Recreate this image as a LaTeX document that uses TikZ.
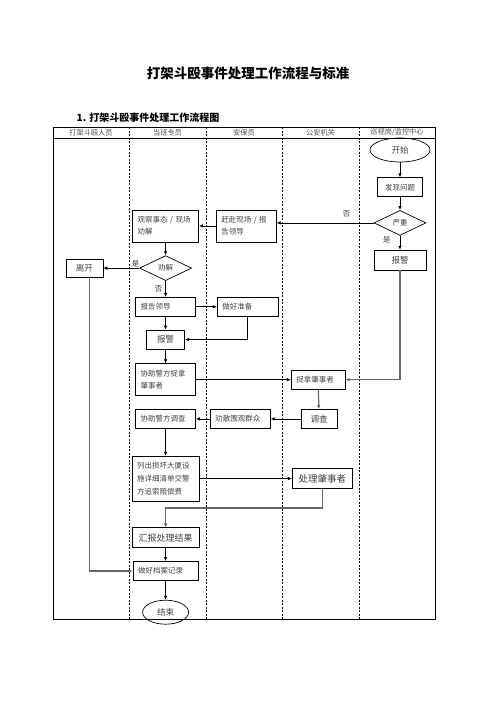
\documentclass[tikz,border=0pt]{standalone}
\usepackage{fontspec}
\setmainfont{Noto Sans CJK SC}
\usepackage{tikz}
\usetikzlibrary{arrows.meta,positioning,shapes.geometric}

\begin{document}
\begin{tikzpicture}[
    x=1pt, y=1pt,
    >={Latex[length=4pt,width=3.5pt]},
    line width=0.7pt,
    font=\fontsize{7.5}{12}\selectfont,
    proc/.style={draw, text=black!75, inner xsep=5pt, inner ysep=2pt, minimum height=19pt, align=left},
    procc/.style={proc, align=center},
    decide/.style={draw, diamond, aspect=2.1, minimum width=52pt, minimum height=25pt, inner sep=1pt, text=black!75},
    term/.style={draw, ellipse, minimum width=60pt, minimum height=24pt, inner sep=1pt, text=black!75, font=\fontsize{8.5}{10}\selectfont},
    lane/.style={dash pattern=on 2pt off 1.5pt, line width=0.6pt},
    lanehead/.style={text=black!70, font=\fontsize{7.2}{9}\selectfont},
    lbl/.style={text=black!75, inner sep=1pt},
    heavy/.style={->, draw=black!60, line width=1.2pt}
]
\useasboundingbox (0,0) rectangle (496,-702);

\node[font=\bfseries\fontsize{13.5}{16}\selectfont] (title) at (248,-73) {打架斗殴事件处理工作流程与标准};
\node[font=\bfseries\fontsize{10}{12}\selectfont, anchor=west] (subtitle) at (73,-118) {1. 打架斗殴事件处理工作流程图};

\draw[line width=0.8pt] (53,-127) rectangle (435,-619);
\draw[line width=0.8pt] (53,-138) -- (435,-138);
\foreach \lx in {129,206,282,359} \draw[lane] (\lx,-127) -- (\lx,-619);
\foreach \lx/\ltext [count=\i] in {91/打架斗殴人员, 167.5/当班专员, 244/安保员, 320.5/公安机关, 397/{巡视岗/监控中心}}
    \node[lanehead] (lane\i) at (\lx,-132.5) {\ltext};

\node[term] (start) at (400,-150) {开始};
\node[procc, text width=35pt, below=15pt of start] (find) {发现问题};
\node[decide, below=13pt of find] (severe) {严重};
\node[procc, text width=42pt, minimum height=20pt, font=\fontsize{8.5}{10}\selectfont, below=14pt of severe] (alarmR) {报警};

\node[proc, text width=50pt, minimum height=32pt, left=97pt of severe, yshift=-3pt] (rush) {赶赴现场 / 报\\告领导};
\node[proc, text width=56pt, minimum height=32pt, left=17pt of rush] (observe) {观察事态 / 现场\\劝解};
\node[decide, below=13pt of observe] (persuade) {劝解};
\node[procc, text width=27pt, minimum height=18pt, font=\fontsize{8.5}{10}\selectfont, left=36pt of persuade] (leave) {离开};
\node[proc, text width=50pt, below=16pt of persuade] (report) {报告领导};
\node[proc, text width=51pt, right=21pt of report] (prepare) {做好准备};
\node[procc, text width=28pt, font=\fontsize{8.5}{10}\selectfont, below=13pt of report] (alarmC) {报警};
\node[proc, text width=50pt, minimum height=32pt, below=14pt of alarmC] (assistcatch) {协助警方捉拿\\肇事者};
\node[proc, text width=44pt, right=95pt of assistcatch] (catch) {捉拿肇事者};
\node[proc, text width=50pt, below=13pt of assistcatch] (assistinv) {协助警方调查};
\node[proc, text width=50pt, right=14pt of assistinv] (disperse) {劝散围观群众};
\node[procc, text width=26pt, font=\fontsize{8.5}{10}\selectfont, right=30pt of disperse] (investigate) {调查};
\node[proc, text width=57pt, minimum height=45pt, font=\fontsize{7.5}{13}\selectfont, below=27pt of assistinv] (damage) {列出损坏大厦设\\施详细清单交警\\方追索赔偿费};
\node[procc, text width=50pt, minimum height=20pt, font=\fontsize{9.5}{11}\selectfont, right=92.5pt of damage] (handle) {处理肇事者};
\node[procc, text width=57pt, minimum height=20pt, font=\fontsize{9}{11}\selectfont, below=26pt of damage] (summary) {汇报处理结果};
\node[proc, text width=55pt, below=13pt of summary] (record) {做好档案记录};
\node[term, minimum width=46pt, below=19pt of record] (finish) {结束};

\draw[->] (start) -- (find);
\draw[->] (find) -- (severe);
\draw[->] (severe) -- node[lbl, pos=0.3, left=8pt] {是} (alarmR);
\draw[->] (severe) -- node[lbl, pos=0.28, above=4pt] {否} (severe -| rush.east);
\draw[->] (rush) -- (observe);
\draw[->] (observe) -- (persuade);
\draw[->] (persuade) -- node[lbl, pos=0.1, above] {是} (leave);
\draw[->] (persuade) -- node[lbl, left=2pt] {否} (report);
\draw[->] (report) -- (prepare);
\draw[->] (report) -- (alarmC);
\draw[->] (prepare) |- (alarmC);
\draw[->] (alarmC) -- (assistcatch);
\draw[->] (assistcatch) -- (catch);
\draw[heavy] (alarmR) |- (catch);
\draw[heavy] (catch) -- (investigate);
\draw[->] (investigate) -- (disperse);
\draw[->] (disperse) -- (assistinv);
\draw[->] (assistinv) -- (damage);
\draw[->] (damage) -- (handle);
\draw[heavy] (handle.south) -- ++(0,-19) -| (summary.north);
\draw[->] (summary) -- (record);
\draw[heavy] ([xshift=5pt]leave.south) |- (record.west);
\draw[->] (record) -- (finish);
\end{tikzpicture}
\end{document}
